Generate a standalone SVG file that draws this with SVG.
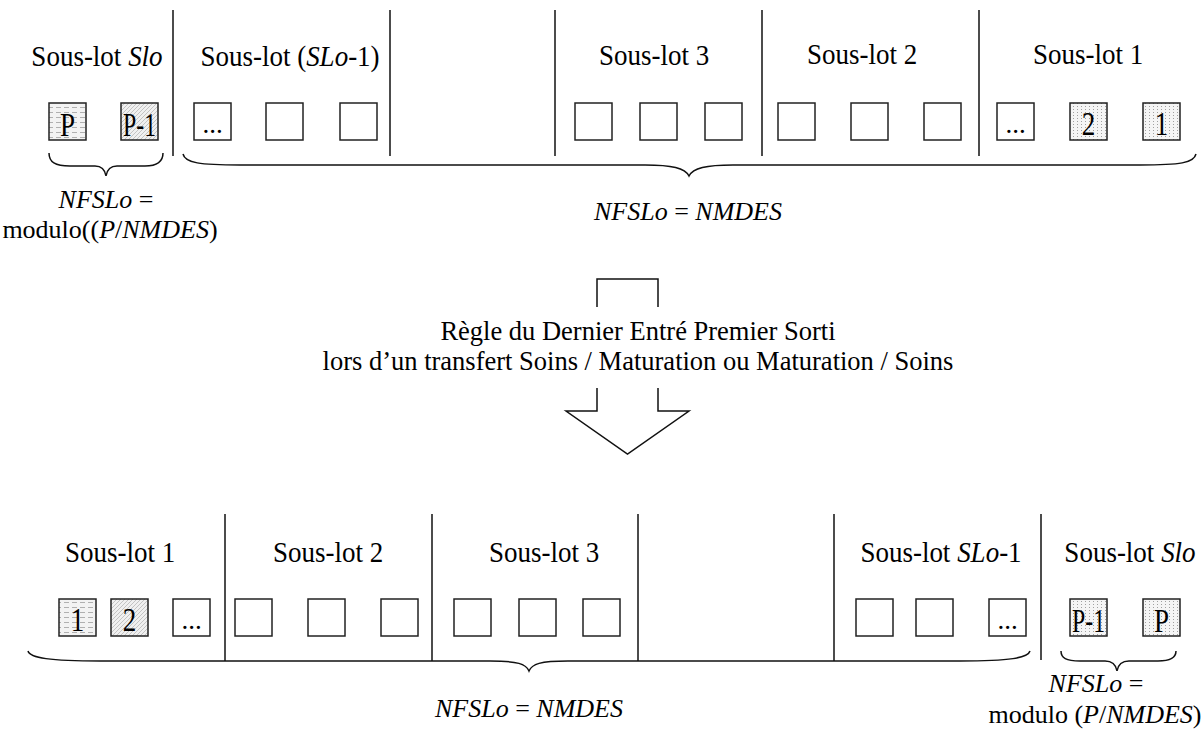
<svg xmlns="http://www.w3.org/2000/svg" width="1204" height="738" viewBox="0 0 1204 738">
<defs>
<pattern id="pH" width="8" height="5" patternUnits="userSpaceOnUse">
<rect width="8" height="5" fill="#f3f3f3"/>
<line x1="0" y1="2.5" x2="5" y2="2.5" stroke="#b0b0b0" stroke-width="1"/>
</pattern>
<pattern id="pD" width="4" height="4" patternUnits="userSpaceOnUse">
<rect width="4" height="4" fill="#f0f0f0"/>
<path d="M0,4 L4,0 M-1,1 L1,-1 M3,5 L5,3" stroke="#b0b0b0" stroke-width="0.7"/>
</pattern>
<pattern id="pO" width="4" height="3" patternUnits="userSpaceOnUse">
<rect width="4" height="3" fill="#f5f5f5"/>
<rect x="1" y="1" width="1" height="1" fill="#a0a0a0"/>
</pattern>
<style>
.t{font-family:"Liberation Serif","Times New Roman",serif;font-size:27px;fill:#000;text-anchor:middle}
.n{font-family:"Liberation Serif","Times New Roman",serif;font-size:26px;fill:#000;text-anchor:middle}
.m{font-family:"Liberation Serif","Times New Roman",serif;font-size:26.5px;fill:#000;text-anchor:middle}
.bx{font-family:"Liberation Serif","Times New Roman",serif;font-size:27px;fill:#000;text-anchor:middle}
.i{font-style:italic}
.box{fill:#fff;stroke:#222;stroke-width:1.5}
.sh{stroke:#222;stroke-width:1.5}
.sep{stroke:#111;stroke-width:1.5;fill:none}
.br{stroke:#111;stroke-width:1.5;fill:none}
</style>
</defs>
<rect width="1204" height="738" fill="#fff"/>

<g id="top-separators">
<line class="sep" x1="173" y1="10" x2="173" y2="156"/>
<line class="sep" x1="390" y1="10" x2="390" y2="156"/>
<line class="sep" x1="555" y1="10" x2="555" y2="156"/>
<line class="sep" x1="762" y1="10" x2="762" y2="156"/>
<line class="sep" x1="979" y1="10" x2="979" y2="156"/>
</g>

<g id="top-headers">
<text class="t" transform="translate(97,66) scale(1,1.1)">Sous-lot <tspan class="i">Slo</tspan></text>
<text class="t" transform="translate(290,66) scale(1,1.1)">Sous-lot (<tspan class="i">SLo</tspan>-1)</text>
<text class="t" transform="translate(654,65) scale(1,1.1)">Sous-lot 3</text>
<text class="t" transform="translate(862,64) scale(1,1.1)">Sous-lot 2</text>
<text class="t" transform="translate(1088,64) scale(1,1.1)">Sous-lot 1</text>
</g>

<g id="top-boxes">
<rect class="sh" x="49" y="103" width="37" height="37" fill="url(#pH)"/>
<text class="bx" transform="translate(67.5,136) scale(1,1.28)">P</text>
<rect class="sh" x="121" y="103" width="37" height="37" fill="url(#pD)"/>
<text class="bx" transform="translate(139.5,136) scale(1,1.28)" textLength="33" lengthAdjust="spacingAndGlyphs">P-1</text>
<rect class="box" x="194" y="103" width="37" height="37"/>
<text class="bx" transform="translate(212.5,133)">...</text>
<rect class="box" x="266" y="103" width="37" height="37"/>
<rect class="box" x="340" y="103" width="37" height="37"/>
<rect class="box" x="575" y="103" width="37" height="37"/>
<rect class="box" x="640" y="103" width="37" height="37"/>
<rect class="box" x="705" y="103" width="37" height="37"/>
<rect class="box" x="778" y="103" width="37" height="37"/>
<rect class="box" x="851" y="103" width="37" height="37"/>
<rect class="box" x="924" y="103" width="37" height="37"/>
<rect class="box" x="997" y="103" width="37" height="37"/>
<text class="bx" transform="translate(1015.5,133)">...</text>
<rect class="sh" x="1070" y="103" width="37" height="37" fill="url(#pO)"/>
<text class="bx" transform="translate(1088.5,135) scale(1,1.28)">2</text>
<rect class="sh" x="1143" y="103" width="37" height="37" fill="url(#pO)"/>
<text class="bx" transform="translate(1161.5,135) scale(1,1.28)">1</text>
</g>

<g id="connectors">
<path class="br" d="M49,153 C49,162 55,166 70,166 L95,166 C102,166 105,170 106,176 C107,170 110,166 117,166 L145,166 C157,166 163,162 163,153"/>
<path class="br" d="M183,154 C185,163 200,165 240,165 L645,165 C672,165 685,168 689,176 C693,168 706,165 733,165 L1140,165 C1180,165 1194,163 1196,154"/>
<path class="br" d="M597,307 L597,279 L658,279 L658,307"/>
<path class="br" d="M597,388 L597,411 L566,411 L627.5,454 L689,411 L658,411 L658,388"/>
<path class="br" d="M28,651 C30,658 50,661 100,661 L490,661 C518,661 526,664 529,671 C532,664 540,661 568,661 L960,661 C1010,661 1028,658 1030,651"/>
<path class="br" d="M1061,651 C1061,658 1066,661 1080,661 L1105,661 C1112,661 1116,665 1117,671 C1118,665 1122,661 1129,661 L1158,661 C1170,661 1176,658 1176,651"/>
</g>

<g id="top-labels">
<text class="n" x="106" y="208"><tspan class="i">NFSLo</tspan> =</text>
<text class="n" x="110" y="238">modulo((<tspan class="i">P</tspan>/<tspan class="i">NMDES</tspan>)</text>
<text class="n" x="688" y="220"><tspan class="i">NFSLo</tspan> = <tspan class="i">NMDES</tspan></text>
</g>

<g id="rule">
<text class="m" x="638" y="340">Règle du Dernier Entré Premier Sorti</text>
<text class="m" x="638" y="370">lors d’un transfert Soins / Maturation ou Maturation / Soins</text>
</g>

<g id="bottom-separators">
<line class="sep" x1="225" y1="514" x2="225" y2="661"/>
<line class="sep" x1="432" y1="514" x2="432" y2="661"/>
<line class="sep" x1="638" y1="514" x2="638" y2="661"/>
<line class="sep" x1="834" y1="514" x2="834" y2="661"/>
<line class="sep" x1="1041" y1="514" x2="1041" y2="660"/>
</g>

<g id="bottom-headers">
<text class="t" transform="translate(120,562) scale(1,1.1)">Sous-lot 1</text>
<text class="t" transform="translate(328,562) scale(1,1.1)">Sous-lot 2</text>
<text class="t" transform="translate(544,562) scale(1,1.1)">Sous-lot 3</text>
<text class="t" transform="translate(941,562) scale(1,1.1)">Sous-lot <tspan class="i">SLo</tspan>-1</text>
<text class="t" transform="translate(1130,562) scale(1,1.1)">Sous-lot <tspan class="i">Slo</tspan></text>
</g>

<g id="bottom-boxes">
<rect class="sh" x="59" y="599" width="37" height="37" fill="url(#pH)"/>
<text class="bx" transform="translate(77.5,631) scale(1,1.28)">1</text>
<rect class="sh" x="111" y="599" width="37" height="37" fill="url(#pD)"/>
<text class="bx" transform="translate(129.5,631) scale(1,1.28)">2</text>
<rect class="box" x="173" y="599" width="37" height="37"/>
<text class="bx" transform="translate(191.5,629)">...</text>
<rect class="box" x="235" y="599" width="37" height="37"/>
<rect class="box" x="308" y="599" width="37" height="37"/>
<rect class="box" x="381" y="599" width="37" height="37"/>
<rect class="box" x="454" y="599" width="37" height="37"/>
<rect class="box" x="519" y="599" width="37" height="37"/>
<rect class="box" x="583" y="599" width="37" height="37"/>
<rect class="box" x="856" y="599" width="37" height="37"/>
<rect class="box" x="916" y="599" width="37" height="37"/>
<rect class="box" x="989" y="599" width="37" height="37"/>
<text class="bx" transform="translate(1007.5,629)">...</text>
<rect class="sh" x="1070" y="599" width="37" height="37" fill="url(#pO)"/>
<text class="bx" transform="translate(1088.5,632) scale(1,1.28)" textLength="33" lengthAdjust="spacingAndGlyphs">P-1</text>
<rect class="sh" x="1143" y="599" width="37" height="37" fill="url(#pO)"/>
<text class="bx" transform="translate(1161.5,632) scale(1,1.28)">P</text>
</g>

<g id="bottom-labels">
<text class="n" x="529" y="717"><tspan class="i">NFSLo</tspan> = <tspan class="i">NMDES</tspan></text>
<text class="n" x="1096" y="692"><tspan class="i">NFSLo</tspan> =</text>
<text class="n" x="1095" y="723">modulo (<tspan class="i">P</tspan>/<tspan class="i">NMDES</tspan>)</text>
</g>
</svg>
